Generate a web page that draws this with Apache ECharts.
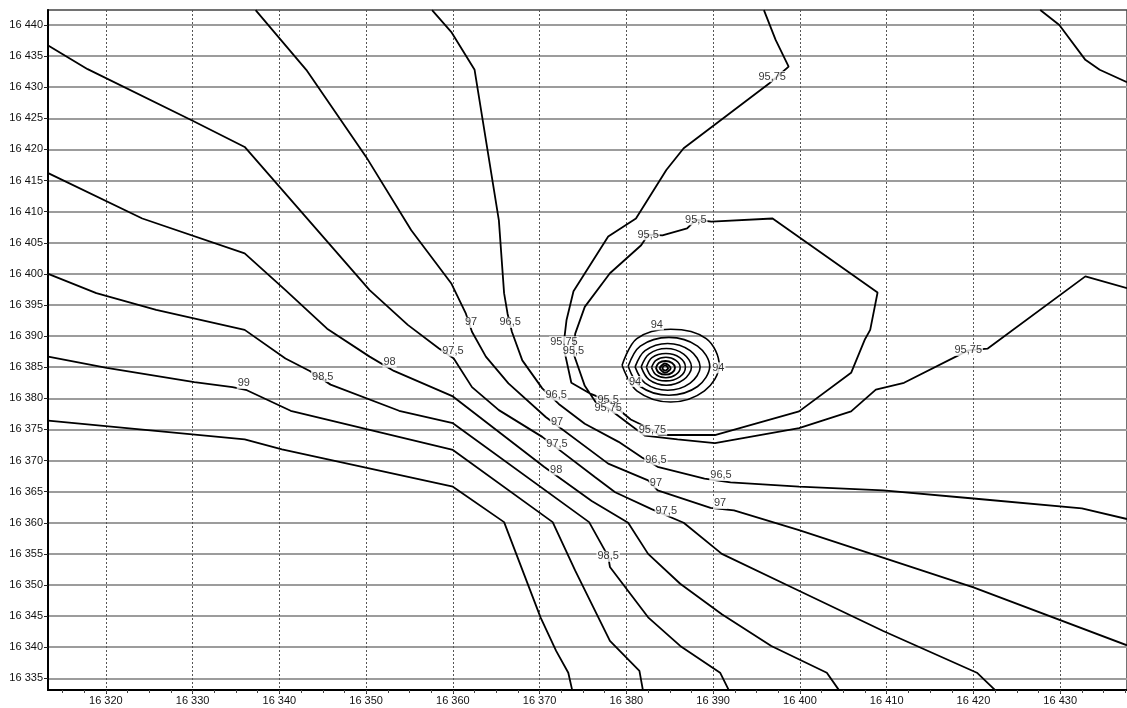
<!DOCTYPE html>
<html><head><meta charset="utf-8">
<script src="https://cdn.jsdelivr.net/npm/echarts@6/dist/echarts.min.js"></script>
<style>html,body{margin:0;padding:0;background:#fff}#c{width:1127px;height:708px}</style>
</head><body><div id="c"></div>
<script>
// ---- axis ticks ----
const xTicks = [16320,16330,16340,16350,16360,16370,16380,16390,16400,16410,16420,16430];
const yTicks = [16335,16340,16345,16350,16355,16360,16365,16370,16375,16380,16385,16390,16395,16400,16405,16410,16415,16420,16425,16430,16435,16440];
const xRange = [16313.33, 16437.7];
const yRange = [16333.12, 16442.41];

// ---- contour lines (x, y) ----
const c99_5 = [[16313.35,16376.4],[16336.0,16373.4],[16340.3,16371.8],[16360.0,16365.8],[16365.9,16360.1],[16370.1,16344.8],[16371.9,16339.4],[16373.3,16335.9],[16373.75,16333.1]];
const c99 = [[16313.35,16386.7],[16320.1,16384.9],[16330.2,16382.6],[16334.6,16381.8],[16336.25,16381.3],[16341.3,16378.0],[16360.0,16371.7],[16371.5,16360.1],[16374.1,16352.3],[16378.1,16341.0],[16381.5,16336.2],[16381.9,16333.1]];
const c98_5 = [[16313.35,16400.0],[16318.9,16396.9],[16325.8,16394.2],[16336.0,16391.0],[16340.7,16386.4],[16343.5,16384.4],[16345.9,16382.2],[16353.8,16378.0],[16360.0,16376.0],[16375.7,16360.1],[16377.9,16354.6],[16378.1,16352.9],[16382.5,16344.8],[16386.2,16340.2],[16390.8,16335.9],[16391.8,16333.1]];
const c98 = [[16313.35,16416.2],[16324.2,16408.9],[16336.0,16403.3],[16340.7,16397.4],[16345.5,16391.2],[16350.4,16386.7],[16353.2,16384.4],[16360.0,16380.3],[16370.5,16369.0],[16376.0,16363.5],[16380.2,16360.0],[16382.5,16355.0],[16386.2,16350.2],[16391.0,16345.3],[16396.7,16340.2],[16403.1,16335.9],[16404.5,16333.1]];
const c97_5 = [[16313.35,16436.7],[16317.9,16432.9],[16330.0,16424.6],[16336.0,16420.4],[16350.4,16397.4],[16354.8,16391.8],[16358.4,16388.0],[16360.1,16386.4],[16362.2,16381.8],[16365.3,16378.1],[16370.3,16373.8],[16376.4,16367.3],[16378.7,16364.9],[16382.9,16362.2],[16386.6,16360.0],[16391.0,16355.0],[16399.1,16349.6],[16409.6,16342.6],[16420.4,16335.9],[16422.5,16333.1]];
const c97 = [[16337.26,16442.4],[16343.1,16432.8],[16350.0,16418.8],[16355.2,16407.0],[16359.8,16398.5],[16361.5,16393.6],[16362.2,16390.7],[16363.8,16386.7],[16366.4,16382.4],[16370.7,16377.0],[16377.9,16369.5],[16382.5,16366.8],[16383.6,16365.2],[16389.7,16362.4],[16392.4,16362.0],[16399.9,16358.8],[16410.0,16354.2],[16420.0,16349.6],[16437.7,16340.3]];
const c96_5 = [[16357.6,16442.4],[16359.8,16438.9],[16362.5,16432.8],[16365.3,16408.6],[16365.9,16396.9],[16366.3,16393.6],[16366.8,16390.7],[16368.0,16386.1],[16370.3,16381.6],[16372.2,16379.1],[16375.2,16375.9],[16379.1,16373.0],[16381.8,16370.5],[16383.6,16369.0],[16389.0,16367.1],[16392.0,16366.5],[16399.9,16365.8],[16409.6,16365.2],[16420.0,16363.9],[16432.5,16362.3],[16437.7,16360.6]];
const c95_75 = [[16395.85,16442.4],[16397.2,16437.6],[16398.7,16433.3],[16396.45,16430.6],[16386.6,16420.2],[16384.6,16416.7],[16381.1,16408.9],[16377.9,16406.0],[16373.9,16397.2],[16373.1,16392.6],[16372.8,16389.1],[16372.9,16387.3],[16373.65,16382.5],[16375.9,16380.7],[16377.9,16379.6],[16380.5,16376.6],[16383.0,16374.9],[16383.75,16374.1],[16390.2,16374.1],[16399.9,16377.9],[16405.9,16384.1],[16407.5,16389.5],[16408.1,16391.0],[16408.95,16397.0],[16396.85,16408.9],[16389.8,16408.4],[16388.0,16408.7],[16387.0,16407.3],[16384.15,16406.2],[16382.5,16406.3],[16381.7,16404.6],[16378.1,16400.1],[16375.2,16394.7],[16374.1,16390.4],[16373.9,16387.6],[16374.0,16386.8],[16375.2,16382.0],[16376.5,16379.3],[16377.9,16378.4],[16380.0,16376.2],[16382.1,16374.0],[16385.9,16373.4],[16390.2,16372.8],[16399.9,16375.2],[16405.9,16377.9],[16408.75,16381.4],[16412.0,16382.5],[16419.4,16387.7],[16421.65,16388.0],[16432.9,16399.6],[16437.7,16397.7]];
const cTopRight = [[16427.7,16442.4],[16429.9,16440.0],[16432.9,16434.4],[16434.55,16432.8],[16437.7,16430.8]];

// ---- closed rings around the minimum (94 and below) ----
const ring1 = [[16379.5,16385.3],[16381.2,16381.2],[16385.1,16379.4],[16389.0,16381.2],[16390.7,16385.3],[16389.2,16389.6],[16385.1,16391.1],[16381.2,16389.6],[16379.5,16385.3]];
const ring2 = [[16380.2,16385.15],[16381.6,16381.9],[16384.9,16380.5],[16388.2,16381.9],[16389.6,16385.15],[16388.2,16388.4],[16384.9,16389.8],[16381.6,16388.4],[16380.2,16385.15]];
const ring3 = [[16381.0,16385.05],[16382.15,16382.45],[16384.75,16381.3],[16387.35,16382.45],[16388.5,16385.05],[16387.35,16387.65],[16384.75,16388.8],[16382.15,16387.65],[16381.0,16385.05]];
const ring4 = [[16381.7,16385.05],[16382.6,16383.0],[16384.6,16382.1],[16386.6,16383.0],[16387.5,16385.05],[16386.6,16387.1],[16384.6,16388.0],[16382.6,16387.1],[16381.7,16385.05]];
const ring5 = [[16382.3,16385.0],[16382.95,16383.45],[16384.55,16382.8],[16386.15,16383.45],[16386.8,16385.0],[16386.15,16386.55],[16384.55,16387.2],[16382.95,16386.55],[16382.3,16385.0]];
const ring6 = [[16382.9,16384.95],[16383.4,16383.8],[16384.55,16383.3],[16385.7,16383.8],[16386.2,16384.95],[16385.7,16386.1],[16384.55,16386.6],[16383.4,16386.1],[16382.9,16384.95]];
const ring7 = [[16383.4,16384.9],[16383.73,16384.13],[16384.5,16383.8],[16385.27,16384.13],[16385.6,16384.9],[16385.27,16385.67],[16384.5,16386.0],[16383.73,16385.67],[16383.4,16384.9]];
const ring8 = [[16383.8,16384.85],[16384.45,16384.1],[16385.1,16384.85],[16384.45,16385.6],[16383.8,16384.85]];
const ring9 = [[16384.1,16384.85],[16384.45,16384.45],[16384.8,16384.85],[16384.45,16385.3],[16384.1,16384.85]];

// ---- contour labels (x, y, text) ----
const contourLabels = [
  [16335.9,16382.4,'99'],
  [16345.0,16383.5,'98,5'],[16377.9,16354.6,'98,5'],
  [16352.7,16385.8,'98'],[16371.9,16368.5,'98'],
  [16360.0,16387.6,'97,5'],[16372.0,16372.6,'97,5'],[16384.6,16361.9,'97,5'],
  [16362.1,16392.2,'97'],[16372.0,16376.2,'97'],[16383.4,16366.4,'97'],[16390.8,16363.1,'97'],
  [16366.6,16392.2,'96,5'],[16371.9,16380.5,'96,5'],[16383.4,16370.1,'96,5'],[16390.9,16367.6,'96,5'],
  [16396.8,16431.7,'95,75'],[16372.8,16389.1,'95,75'],[16419.4,16387.7,'95,75'],
  [16382.5,16406.3,'95,5'],[16388.0,16408.7,'95,5'],[16373.9,16387.6,'95,5'],
  [16377.9,16379.8,'95,5'],[16377.9,16378.4,'95,75'],[16383.0,16374.9,'95,75'],
  [16383.5,16391.8,'94'],[16381.0,16382.7,'94'],[16390.6,16384.9,'94']
];

const fmt = v => { const s = String(v); return s.slice(0,2) + ' ' + s.slice(2); };
const xMinor = []; for (let v = 16315; v <= 16437.5; v += 2.5) xMinor.push(v);

const contours = [c99_5, c99, c98_5, c98, c97_5, c97, c96_5, c95_75, cTopRight];
const rings = [ring1, ring2, ring3, ring4, ring5, ring6, ring7, ring8, ring9];
const FONT = "'Liberation Sans', Arial, sans-serif";

const series = [];
contours.forEach(d => series.push({
  type:'line', data:d, showSymbol:false, symbol:'none', animation:false, z:3,
  lineStyle:{color:'#000', width:1.8}
}));
rings.forEach((d, i) => series.push({
  type:'line', data:d, showSymbol:false, symbol:'none', animation:false, z:3, smooth:0.35,
  lineStyle:{color:'#000', width: i < 6 ? 1.6 : 1.9}
}));
series.push({
  type:'scatter', data:contourLabels, symbolSize:0.1, animation:false, z:10,
  itemStyle:{color:'rgba(0,0,0,0)'},
  label:{show:true, position:'inside', formatter:p => p.data[2], fontSize:11, fontFamily:FONT,
         color:'#000', backgroundColor:'#fff', padding:[0,1]}
});

const chart = echarts.init(document.getElementById('c'), null, {renderer:'canvas'});
chart.setOption({
  animation:false,
  backgroundColor:'#fff',
  grid:{left:48, right:-3, top:10, bottom:18, show:true, borderColor:'#444', borderWidth:1.5, backgroundColor:'transparent'},
  xAxis:[{
    type:'value', min:xRange[0], max:xRange[1], position:'bottom',
    axisLine:{show:true, onZero:false, lineStyle:{color:'#000', width:2}},
    axisTick:{show:true, customValues:xTicks, length:4, lineStyle:{color:'#222'}},
    axisLabel:{customValues:xTicks, formatter:fmt, fontSize:11, fontFamily:FONT, color:'#111', margin:5},
    splitLine:{show:true, lineStyle:{type:[2,2], color:'#555', width:1}}
  },{
    type:'value', min:xRange[0], max:xRange[1], position:'bottom',
    axisLine:{show:false}, axisLabel:{show:false}, splitLine:{show:false},
    axisTick:{show:true, customValues:xMinor, length:3, lineStyle:{color:'#444'}}
  }],
  yAxis:{
    type:'value', min:yRange[0], max:yRange[1],
    axisLine:{show:true, onZero:false, lineStyle:{color:'#000', width:2}},
    axisTick:{show:true, customValues:yTicks, length:4, lineStyle:{color:'#222'}},
    axisLabel:{customValues:yTicks, formatter:fmt, fontSize:11, fontFamily:FONT, color:'#111', margin:5},
    splitLine:{show:true, lineStyle:{color:'#9c9c9c', width:1.8}}
  },
  series: series
});
</script></body></html>
